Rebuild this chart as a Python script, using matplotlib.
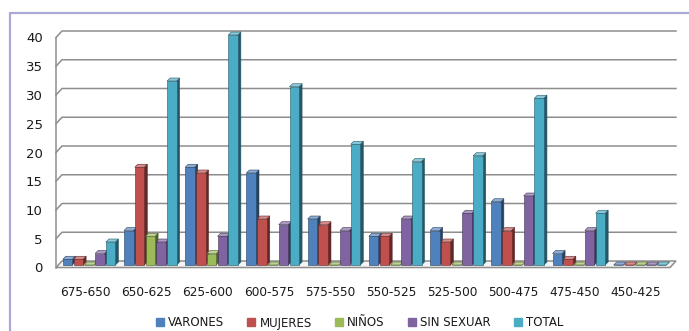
import numpy as np
import matplotlib.pyplot as plt
import matplotlib.colors as mcolors
from matplotlib.patches import Polygon
from matplotlib.lines import Line2D
from matplotlib.transforms import IdentityTransform, ScaledTranslation

# Datos por rango
rangos = ['675-650', '650-625', '625-600', '600-575', '575-550',
          '550-525', '525-500', '500-475', '475-450', '450-425']
varones = [1, 6, 17, 16, 8, 5, 6, 11, 2, 0]
mujeres = [1, 17, 16, 8, 7, 5, 4, 6, 1, 0]
ninos = [0, 5, 2, 0, 0, 0, 0, 0, 0, 0]
sin_sexuar = [2, 4, 5, 7, 6, 8, 9, 12, 6, 0]
total = [4, 32, 40, 31, 21, 18, 19, 29, 9, 0]

series = ['VARONES', 'MUJERES', 'NIÑOS', 'SIN SEXUAR', 'TOTAL']
valores = [varones, mujeres, ninos, sin_sexuar, total]
colores = ['#4F81BD', '#C0504D', '#9BBB59', '#8064A2', '#4BACC6']
yticks = [0, 5, 10, 15, 20, 25, 30, 35, 40]

# Geometria del efecto 3D (pixeles)
W, H = 689, 331
pared = (6.0, 6.5)      # desplazamiento del fondo
frente = (2.5, 2.5)     # plano frontal de las barras
prof = (3.0, 3.0)       # profundidad de cada barra
slot = 0.176
ancho = 0.156
gris = '#8E8E8E'

fig = plt.figure(figsize=(W / 100, H / 100), dpi=100)
fig.patch.set_facecolor('white')
ax = fig.add_axes([56 / W, (H - 267.5) / H, 614 / W, 230 / H])
ax.set_xlim(-0.51, 9.52)
ax.set_ylim(0, 40)
for s in ax.spines.values():
    s.set_visible(False)
ax.set_yticks(yticks)
ax.set_xticks(np.arange(len(rangos)))
ax.set_xticklabels(rangos, fontsize=8.7, color='#1A1A1A')
ax.tick_params(axis='x', length=0, pad=13)
ax.tick_params(axis='y', length=0, pad=9.5, labelsize=9.5, labelcolor='#1A1A1A')
desp = ScaledTranslation(-2 / 100, 0, fig.dpi_scale_trans)
for lbl in ax.get_xticklabels():
    lbl.set_transform(lbl.get_transform() + desp)

ident = IdentityTransform()


def px(x, y):
    return ax.transData.transform((x, y))


# Suelo, pared y lineas de division
x_izq, y0 = px(ax.get_xlim()[0], 0)
x_der, _ = px(ax.get_xlim()[1], 0)
suelo = [(x_izq, y0), (x_der, y0), (x_der + pared[0], y0 + pared[1]),
         (x_izq + pared[0], y0 + pared[1])]
ax.add_artist(Polygon(suelo, closed=True, facecolor='#F4F4F4', edgecolor=gris,
                      lw=1.1, transform=ident, clip_on=False, zorder=1))
_, y40 = px(0, 40)
ax.add_artist(Line2D([x_izq, x_izq], [y0, y40], color=gris, lw=1.1,
                     transform=ident, clip_on=False, zorder=1))
for v in yticks[1:]:
    _, yv = px(0, v)
    ax.add_artist(Line2D([x_izq, x_izq + pared[0], x_der + pared[0]],
                         [yv, yv + pared[1], yv + pared[1]], color=gris, lw=1.1,
                         transform=ident, clip_on=False, zorder=1))


def caja(x0, h, color):
    (a0, b0) = px(x0, 0)
    (a1, b1) = px(x0 + ancho, h)
    a0 += frente[0]; a1 += frente[0]
    b0 += frente[1]; b1 += frente[1]
    c = np.array(mcolors.to_rgb(color))
    oscuro = c * 0.5
    claro = c + (1 - c) * 0.35
    dx, dy = prof
    lado = [(a1, b0), (a1 + dx, b0 + dy), (a1 + dx, b1 + dy), (a1, b1)]
    tapa = [(a0, b1), (a1, b1), (a1 + dx, b1 + dy), (a0 + dx, b1 + dy)]
    cara = [(a0, b0), (a1, b0), (a1, b1), (a0, b1)]
    for pts, fc in ((lado, oscuro), (tapa, claro), (cara, c)):
        ax.add_artist(Polygon(pts, closed=True, facecolor=fc, edgecolor=oscuro,
                              lw=0.4, transform=ident, clip_on=False, zorder=2))


for i in range(len(rangos)):
    for k, (vals, col) in enumerate(zip(valores, colores)):
        x0 = i + (k - 2.5) * slot
        caja(x0, vals[i], col)

# Leyenda
manejadores = [Line2D([], [], marker='s', linestyle='', markersize=5.5,
                      color=c) for c in colores]
fig.legend(manejadores, series, loc='center', bbox_to_anchor=(360 / W, 1 - 323 / H),
           ncol=5, frameon=False, fontsize=8.5, handlelength=0.6,
           handletextpad=0.4, columnspacing=2.0, labelcolor='#1A1A1A')

# Marco
fig.add_artist(Line2D([10 / W, 10 / W, 1], [0, 1 - 12.5 / H, 1 - 12.5 / H],
                      transform=fig.transFigure, color='#A9A9D6', lw=1.6))

fig.savefig('out.png', dpi=100, facecolor='white')
